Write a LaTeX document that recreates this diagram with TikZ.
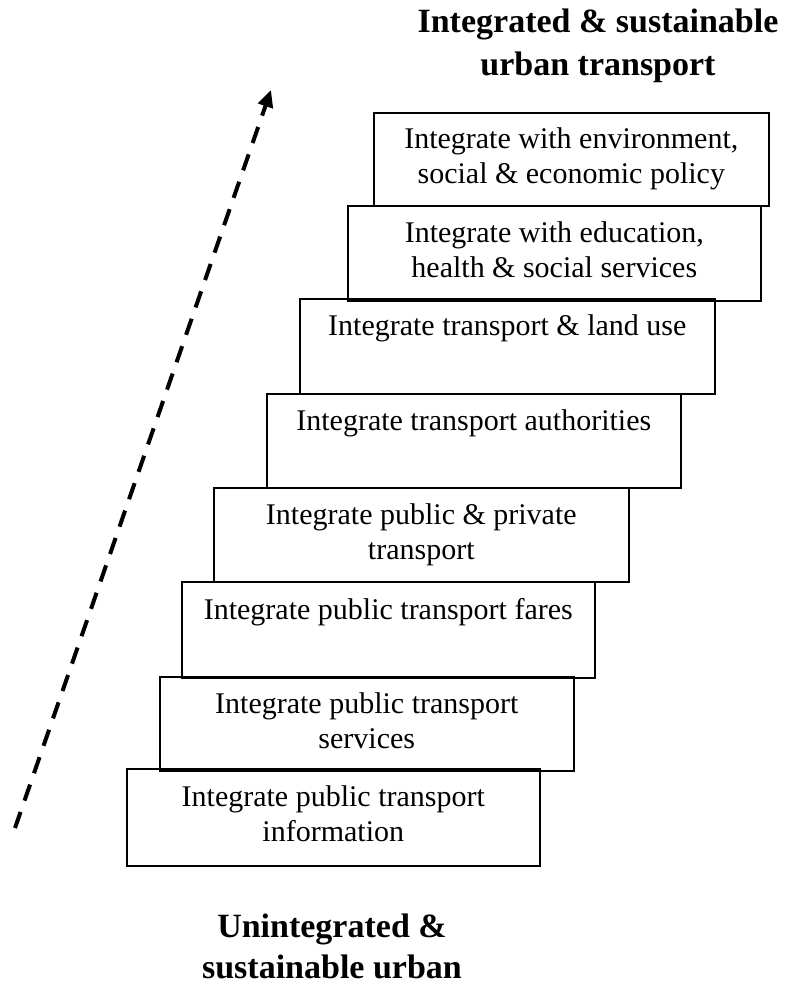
\documentclass[tikz,border=0pt]{standalone}
\usepackage{fontspec}
\setmainfont{Liberation Serif}
\usetikzlibrary{arrows.meta}
\tikzset{
  stepbox/.style={draw, line width=1.6pt, inner sep=0pt, align=center, anchor=north west,
    font=\fontsize{30}{35}\selectfont},
  titletext/.style={inner sep=0pt, align=center, anchor=north},
  trend/.style={line width=4pt, dash pattern=on 17pt off 12pt,
    -{Triangle[length=17pt,width=15pt]}}
}
\begin{document}
\begin{tikzpicture}[x=1pt,y=-1pt]
\useasboundingbox (0,0) rectangle (791,984);
% steps (left, top) ; width = right-left, height = bottom-top
\node[stepbox, minimum width=395pt, minimum height=93pt] (s8) at (373,112)
  {\strut Integrate with environment,\\ \strut social \& economic policy};
\node[stepbox, minimum width=413pt, minimum height=95pt] (s7) at (347,205)
  {\strut Integrate with education,\\ \strut health \& social services};
\node[stepbox, minimum width=415pt, minimum height=95pt] (s6) at (299,298)
  {\strut Integrate transport \& land use\\ \strut};
\node[stepbox, minimum width=414pt, minimum height=94pt] (s5) at (266,393)
  {\strut Integrate transport authorities\\ \strut};
\node[stepbox, minimum width=415pt, minimum height=94pt] (s4) at (213,487)
  {\strut Integrate public \& private\\ \strut transport};
\node[stepbox, minimum width=413pt, minimum height=96pt] (s3) at (181,581)
  {\strut Integrate public transport fares\\ \strut};
\node[stepbox, minimum width=414pt, minimum height=94pt] (s2) at (159,676)
  {\strut Integrate public transport\\ \strut services};
\node[stepbox, minimum width=413pt, minimum height=97pt] (s1) at (126,768)
  {\strut Integrate public transport\\ \strut information};
% titles
\node[titletext, font=\fontsize{34}{43}\selectfont\bfseries] (top) at (598,1.9)
  {\strut Integrated \& sustainable\\ urban transport\strut};
\node[titletext, font=\fontsize{34}{41}\selectfont\bfseries] (bottom) at (332,908.3)
  {\strut Unintegrated \&\\ sustainable urban\strut};
% trend arrow
\coordinate (tail) at (15,828);
\coordinate (head) at (271,90);
\draw[trend] (tail) -- (head);
\end{tikzpicture}
\end{document}
